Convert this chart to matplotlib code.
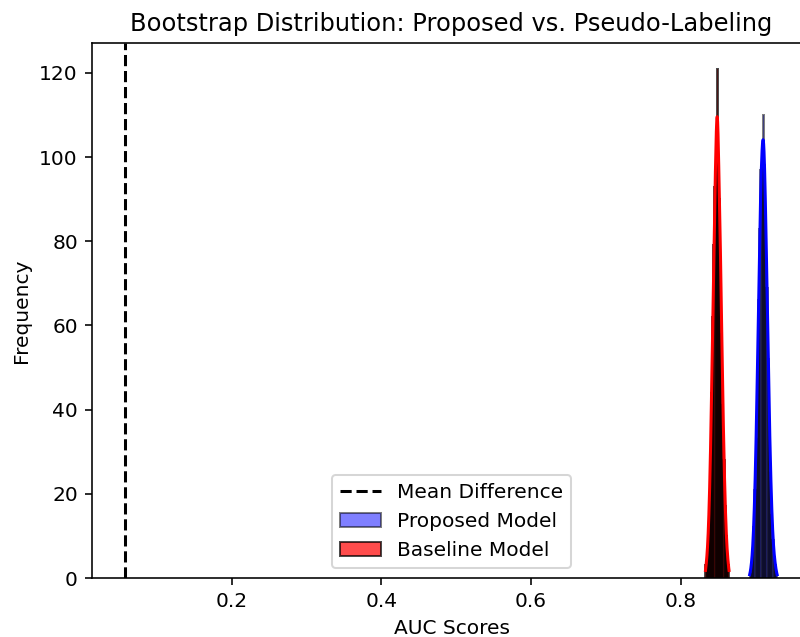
import numpy as np
import matplotlib
matplotlib.use("Agg")
import matplotlib.pyplot as plt
from matplotlib.lines import Line2D
from matplotlib.patches import Patch

# bootstrap AUC histograms (bin edges + counts)
mean_difference = 0.057

baseline_edges = np.round(np.arange(0.8330, 0.8646, 0.0015), 5)
baseline_counts = [3, 5, 10, 18, 29, 44, 62, 79, 93, 104, 121, 100, 90, 76, 58, 41, 28, 17, 10, 5, 3]

proposed_edges = np.round(np.arange(0.8920, 0.9290, 0.0016), 5)
proposed_counts = [1, 3, 6, 12, 21, 33, 49, 66, 83, 97, 103, 110, 98, 86, 69, 52, 37, 25, 15, 9, 5, 3, 1]


def kde_curve(edges, counts):
    # gaussian kde of the binned samples, scaled to counts like seaborn does
    edges = np.asarray(edges)
    counts = np.asarray(counts, dtype=float)
    centers = (edges[:-1] + edges[1:]) / 2
    width = edges[1] - edges[0]
    n = counts.sum()
    mu = np.sum(centers * counts) / n
    sd = np.sqrt(np.sum(counts * (centers - mu) ** 2) / n)
    bw = sd * n ** (-1 / 5)
    xs = np.linspace(edges[0], edges[-1], 300)
    dens = np.zeros_like(xs)
    for c, k in zip(centers, counts):
        dens += k * np.exp(-0.5 * ((xs - c) / bw) ** 2)
    dens /= n * bw * np.sqrt(2 * np.pi)
    return xs, dens * n * width


DPI = 145
fig = plt.figure(figsize=(800 / DPI, 637 / DPI), dpi=DPI)
ax = fig.add_axes([92 / 800, 59 / 637, (811 - 92) / 800, (578 - 43) / 637])

ax.hist(proposed_edges[:-1], bins=proposed_edges, weights=proposed_counts,
        color="blue", alpha=0.5, edgecolor="black")
xs, ys = kde_curve(proposed_edges, proposed_counts)
ax.plot(xs, ys, color="blue", lw=1.5)

ax.hist(baseline_edges[:-1], bins=baseline_edges, weights=baseline_counts,
        color="red", alpha=0.7, edgecolor="black")
xs, ys = kde_curve(baseline_edges, baseline_counts)
ax.plot(xs, ys, color="red", lw=1.5)

ax.axvline(mean_difference, color="black", linestyle="--")

ax.set_xlim(0.0133, 0.974)
ax.set_ylim(0, 127.1)
ax.set_xticks([0.2, 0.4, 0.6, 0.8])
ax.set_yticks([0, 20, 40, 60, 80, 100, 120])
ax.set_xlabel("AUC Scores")
ax.set_ylabel("Frequency")
ax.set_title("Bootstrap Distribution: Proposed vs. Pseudo-Labeling")

handles = [
    Line2D([], [], color="black", linestyle="--"),
    Patch(facecolor="blue", alpha=0.5, edgecolor="black"),
    Patch(facecolor="red", alpha=0.7, edgecolor="black"),
]
ax.legend(handles, ["Mean Difference", "Proposed Model", "Baseline Model"],
          loc="lower center")

fig.savefig("out.png", dpi=DPI)
